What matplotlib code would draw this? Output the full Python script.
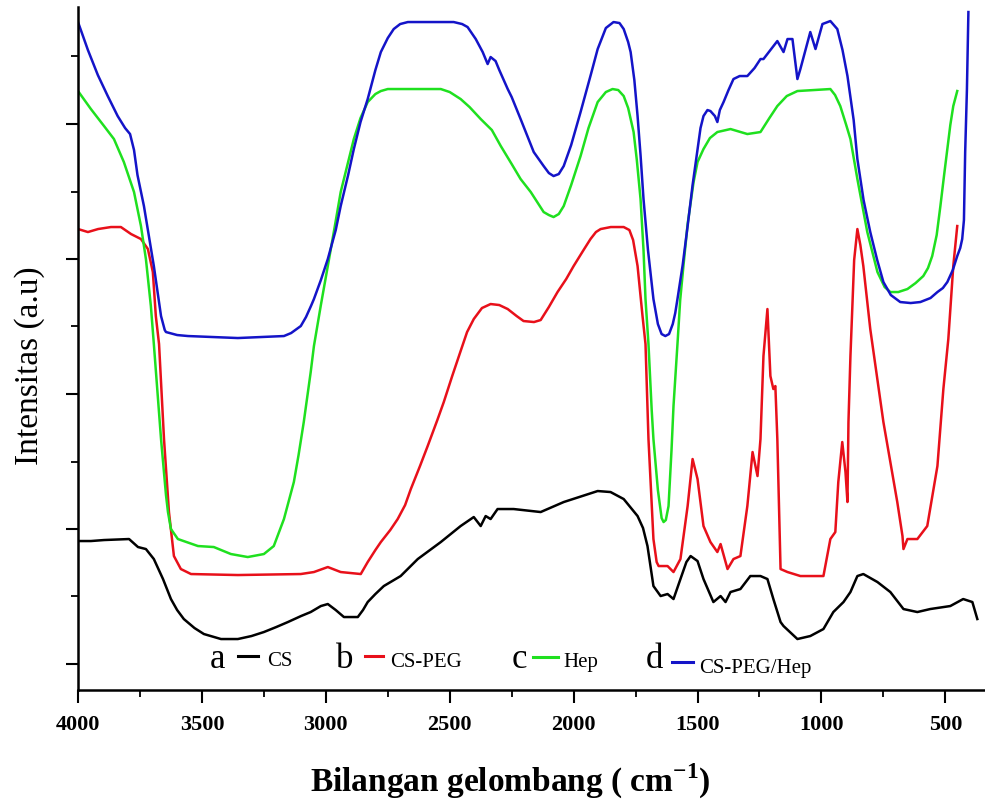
import matplotlib
matplotlib.use('Agg')
import matplotlib.pyplot as plt
from matplotlib.ticker import MultipleLocator

plt.rcParams['font.family'] = ['Liberation Serif', 'DejaVu Serif']
plt.rcParams['mathtext.fontset'] = 'custom'
plt.rcParams['mathtext.rm'] = 'Liberation Serif'
plt.rcParams['mathtext.bf'] = 'Liberation Serif:bold'

# FTIR spectra: wavenumber (cm-1) and intensity (a.u., stacked)
cs_wn = [4000, 3948, 3895, 3794, 3758, 3726, 3694, 3657, 3625, 3600, 3573, 3530, 3492, 3423,
         3355, 3300, 3250, 3200, 3153, 3100, 3061, 3020, 2992, 2960, 2927, 2871, 2850, 2831,
         2800, 2766, 2698, 2629, 2536, 2456, 2403, 2375, 2355, 2335, 2307, 2242, 2133, 2040,
         1903, 1851, 1798, 1742, 1720, 1702, 1678, 1649, 1621, 1597, 1569, 1545, 1528, 1500,
         1476, 1436, 1407, 1387, 1367, 1327, 1287, 1246, 1218, 1194, 1165, 1153, 1097, 1045,
         992, 952, 911, 883, 855, 831, 774, 722, 669, 613, 561, 480, 428, 391, 371]
cs_int = [149, 149, 150, 151, 143, 141, 131, 111, 91, 80, 71, 62, 56, 51,
          51, 54, 58, 63, 68, 74, 78, 84, 86, 80, 73, 73, 80, 88,
          96, 104, 114, 131, 148, 164, 173, 164, 174, 171, 181, 181, 178, 188,
          199, 198, 191, 174, 162, 144, 104, 94, 96, 91, 111, 128, 134, 129,
          111, 88, 94, 88, 98, 101, 114, 114, 111, 91, 68, 64, 51, 54,
          61, 78, 88, 98, 114, 116, 108, 98, 81, 78, 81, 84, 91, 88, 71]

peg_wn = [4000, 3960, 3919, 3867, 3827, 3786, 3746, 3718, 3698, 3686, 3673, 3653, 3633, 3613,
          3585, 3544, 3355, 3101, 3048, 2992, 2940, 2859, 2831, 2800, 2778, 2740, 2710, 2680,
          2657, 2620, 2589, 2550, 2524, 2490, 2456, 2430, 2403, 2370, 2335, 2300, 2266, 2230,
          2202, 2160, 2133, 2100, 2065, 2030, 2000, 1960, 1932, 1910, 1891, 1850, 1798, 1775,
          1760, 1742, 1722, 1710, 1698, 1678, 1665, 1657, 1621, 1597, 1569, 1540, 1520, 1500,
          1476, 1448, 1420, 1407, 1379, 1355, 1327, 1299, 1278, 1258, 1246, 1234, 1218, 1206,
          1194, 1186, 1178, 1165, 1137, 1085, 992, 964, 944, 932, 916, 903, 895, 891, 883,
          868, 855, 843, 831, 803, 750, 694, 673, 669, 653, 613, 573, 532, 508, 488, 468, 452]
peg_int = [461, 458, 461, 463, 463, 456, 451, 441, 418, 374, 346, 251, 178, 134,
           121, 116, 115, 116, 118, 123, 118, 116, 128, 140, 148, 160, 171, 185,
           201, 224, 244, 270, 288, 314, 339, 358, 371, 382, 386, 385, 381, 374,
           369, 368, 370, 383, 398, 411, 424, 440, 451, 458, 461, 463, 463, 460,
           450, 424, 374, 346, 251, 151, 128, 124, 124, 118, 131, 184, 231, 211,
           164, 148, 138, 146, 121, 131, 134, 184, 238, 214, 251, 334, 381, 314,
           301, 304, 251, 121, 118, 114, 114, 151, 158, 208, 248, 218, 188, 268, 334,
           430, 461, 445, 424, 361, 268, 188, 154, 141, 151, 151, 164, 224, 301, 351, 424, 464]

hep_wn = [4000, 3948, 3895, 3855, 3815, 3774, 3746, 3726, 3706, 3694, 3665, 3645, 3637, 3625,
          3597, 3516, 3452, 3383, 3315, 3250, 3210, 3169, 3129, 3110, 3089, 3061, 3048, 3020,
          2992, 2965, 2940, 2910, 2887, 2860, 2831, 2800, 2778, 2750, 2726, 2536, 2500, 2456,
          2420, 2375, 2330, 2294, 2250, 2214, 2173, 2121, 2100, 2081, 2060, 2040, 2010, 1972,
          1940, 1903, 1870, 1843, 1820, 1798, 1780, 1758, 1745, 1730, 1718, 1710, 1698, 1685,
          1678, 1660, 1645, 1637, 1628, 1617, 1605, 1597, 1581, 1570, 1557, 1540, 1516, 1500,
          1476, 1450, 1420, 1367, 1299, 1246, 1210, 1178, 1140, 1097, 964, 945, 924, 900, 883,
          855, 815, 774, 745, 722, 690, 653, 620, 589, 570, 553, 535, 520, 505, 492, 480, 468, 452]
hep_int = [599, 581, 564, 551, 528, 498, 464, 431, 384, 346, 251, 195, 178, 161,
           151, 144, 143, 136, 133, 136, 144, 171, 208, 235, 268, 318, 344, 385,
           424, 462, 498, 528, 551, 572, 588, 596, 599, 601, 601, 601, 598, 591,
           583, 571, 560, 544, 526, 511, 498, 478, 475, 473, 476, 484, 505, 534,
           562, 588, 598, 601, 600, 594, 582, 558, 530, 491, 440, 391, 346, 280,
           251, 200, 172, 168, 170, 184, 240, 284, 346, 390, 424, 466, 508, 528,
           541, 552, 558, 561, 556, 558, 572, 584, 594, 599, 601, 595, 584, 565, 551,
           511, 458, 418, 403, 398, 398, 401, 407, 414, 422, 434, 455, 484, 515, 541, 565, 584, 599]

mix_wn = [4000, 3960, 3920, 3880, 3840, 3810, 3790, 3774, 3760, 3734, 3694, 3665, 3650, 3645,
          3600, 3556, 3355, 3169, 3140, 3101, 3080, 3060, 3048, 3020, 2992, 2960, 2940, 2910,
          2887, 2860, 2831, 2800, 2778, 2750, 2726, 2700, 2669, 2484, 2450, 2428, 2395, 2367,
          2347, 2335, 2315, 2300, 2266, 2250, 2214, 2161, 2121, 2100, 2081, 2060, 2040, 2010,
          1972, 1930, 1903, 1870, 1839, 1815, 1798, 1780, 1770, 1755, 1742, 1730, 1718, 1700,
          1678, 1660, 1645, 1630, 1615, 1600, 1590, 1581, 1560, 1540, 1520, 1500, 1488, 1476,
          1460, 1448, 1430, 1420, 1410, 1395, 1375, 1355, 1330, 1299, 1270, 1246, 1234, 1178,
          1153, 1137, 1117, 1097, 1085, 1045, 1024, 996, 964, 936, 915, 895, 870, 855, 830,
          803, 775, 750, 720, 682, 640, 601, 560, 532, 510, 492, 470, 452, 440, 432, 425, 420,
          413, 407]
mix_int = [668, 640, 615, 594, 574, 562, 556, 540, 515, 484, 424, 374, 360, 358,
           355, 354, 352, 354, 357, 364, 373, 384, 391, 410, 431, 460, 484, 515,
           541, 568, 591, 620, 638, 652, 661, 666, 668, 668, 666, 663, 651, 638,
           626, 633, 629, 620, 601, 593, 571, 538, 524, 517, 514, 516, 524, 545,
           578, 616, 641, 662, 668, 667, 661, 648, 638, 610, 574, 535, 491, 440,
           391, 366, 356, 354, 356, 366, 377, 391, 425, 464, 505, 541, 562, 574,
           580, 579, 574, 568, 580, 588, 600, 611, 614, 614, 622, 631, 631, 649,
           638, 651, 651, 611, 621, 658, 641, 666, 669, 661, 640, 614, 570, 531, 490,
           458, 430, 408, 395, 388, 387, 388, 392, 398, 402, 408, 420, 434, 442, 451, 470, 538,
           600, 678]

series = [
    ('a', 'CS', cs_wn, cs_int, 'black'),
    ('b', 'CS-PEG', peg_wn, peg_int, '#e8101a'),
    ('c', 'Hep', hep_wn, hep_int, '#1fe01f'),
    ('d', 'CS-PEG/Hep', mix_wn, mix_int, '#1414c8'),
]

fig = plt.figure(figsize=(9.85, 8.04), dpi=100)
ax = fig.add_axes([0.0792, 0.1405, 0.9208, 0.8495])

for tag, name, wn, val, col in series:
    ax.plot(wn, val, color=col, lw=1.8, solid_joinstyle='round')

ax.set_xlim(4000, 340)
ax.set_ylim(0, 683)

ax.spines['top'].set_visible(False)
ax.spines['right'].set_visible(False)
for s in ['left', 'bottom']:
    ax.spines[s].set_linewidth(1.8)

ax.set_xticks(range(4000, 499, -500))
ax.xaxis.set_minor_locator(MultipleLocator(250))
ax.set_yticks([26, 161, 296, 431, 566])
ax.set_yticks([94, 228, 364, 498, 634], minor=True)
ax.tick_params(axis='both', which='major', direction='out', length=9, width=1.5)
ax.tick_params(axis='both', which='minor', direction='out', length=5, width=1.3)
ax.tick_params(axis='y', labelleft=False)
ax.tick_params(axis='x', labelsize=16, pad=8)
for lab in ax.get_xticklabels():
    lab.set_fontweight('bold')

ax.set_xlabel(r'Bilangan gelombang ( cm$^{\mathbf{-1}}$)', fontsize=24,
              fontweight='bold', va='center')
ax.xaxis.set_label_coords(0.477, -0.132)
ax.set_ylabel('Intensitas (a.u)', fontsize=24, va='center')
ax.yaxis.set_label_coords(-0.053, 0.477)

# labels a-d with a short coloured dash, drawn inside the axes
legend_pos = [
    (0.154, 0.176, 0.198, 0.208, 0.050, 0.037),
    (0.294, 0.316, 0.336, 0.344, 0.050, 0.035),
    (0.487, 0.502, 0.529, 0.535, 0.048, 0.035),
    (0.636, 0.655, 0.678, 0.685, 0.041, 0.026),
]
for (tag, name, wn, val, col), (xl, x0, x1, xn, yd, yn) in zip(series, legend_pos):
    ax.text(xl, 0.034, tag, transform=ax.transAxes, fontsize=25,
            ha='center', va='baseline')
    ax.plot([x0, x1], [yd, yd], color=col, lw=2.2, transform=ax.transAxes)
    ax.text(xn, yn, name, transform=ax.transAxes, fontsize=15,
            ha='left', va='baseline')

fig.savefig('out.png', dpi=100)
